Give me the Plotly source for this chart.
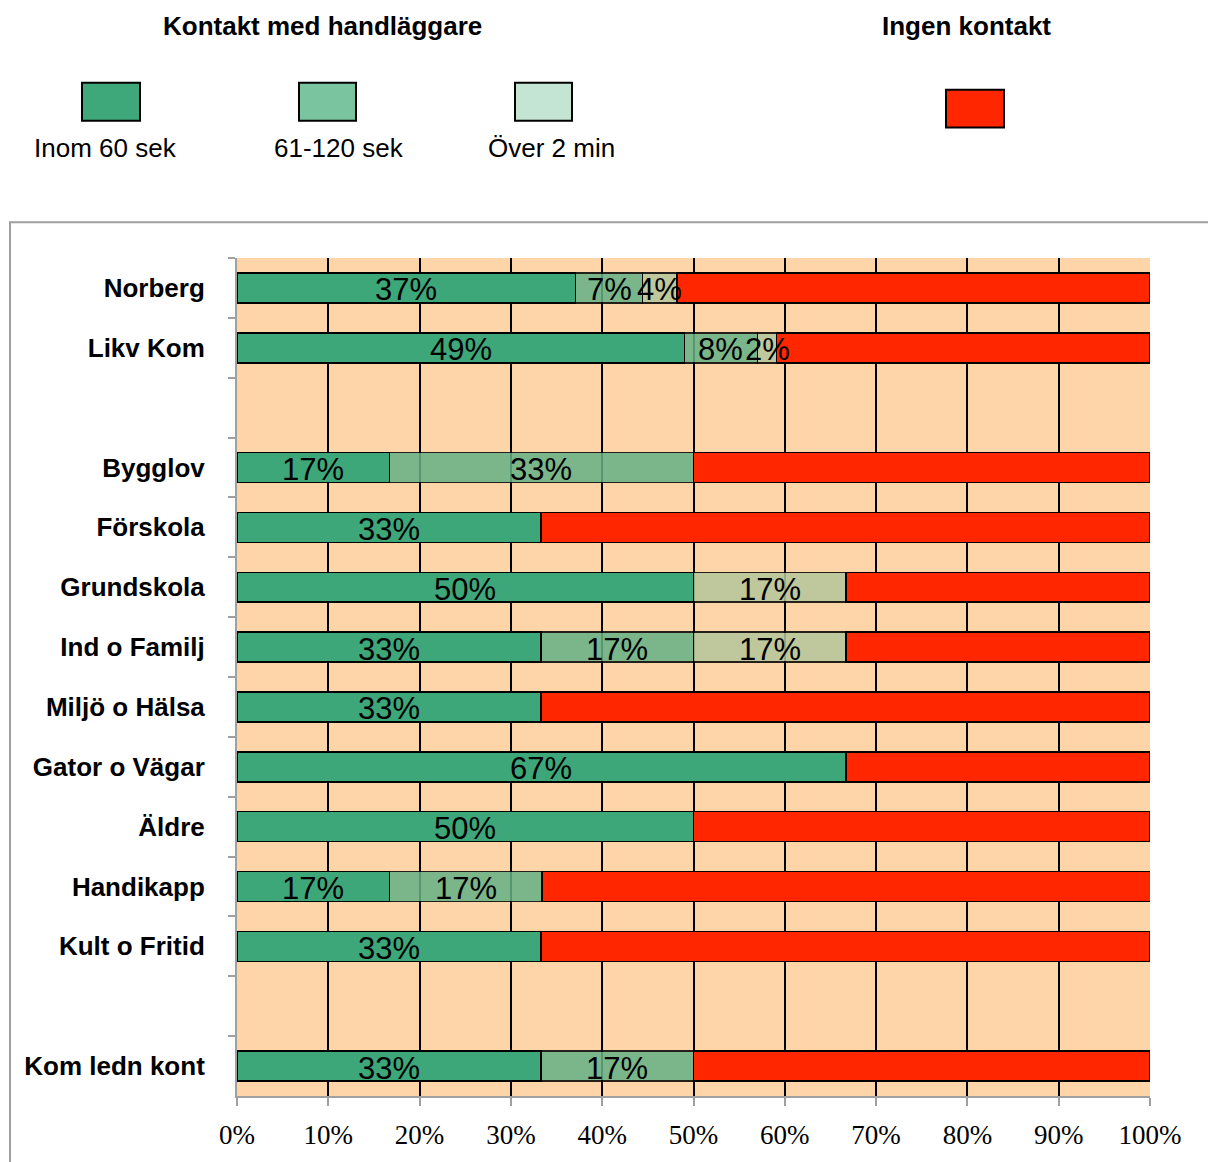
import plotly.graph_objects as go

# ---------------- data ----------------
categories = ["Norberg", "Likv Kom", " ", "Bygglov", "Förskola", "Grundskola",
              "Ind o Familj", "Miljö o Hälsa", "Gator o Vägar", "Äldre",
              "Handikapp", "Kult o Fritid", "  ", "Kom ledn kont"]
inom_60_sek = [37.1, 49.0, None, 16.7, 33.3, 50.0, 33.3, 33.3, 66.7, 50.0, 16.7, 33.3, None, 33.3]
sek_61_120 = [7.3, 8.0, None, 33.3, None, None, 16.7, None, None, None, 16.7, None, None, 16.7]
over_2_min = [3.8, 2.1, None, None, None, 16.7, 16.7, None, None, None, None, None, None, None]
ingen_kontakt = [51.8, 40.9, None, 50.0, 66.7, 33.3, 33.3, 66.7, 33.3, 50.0, 66.7, 66.7, None, 50.0]
x_tick_values = [0, 10, 20, 30, 40, 50, 60, 70, 80, 90, 100]
x_tick_labels = ["0%", "10%", "20%", "30%", "40%", "50%", "60%", "70%", "80%", "90%", "100%"]
series_names = ["Inom 60 sek", "61-120 sek", "Över 2 min", "Ingen kontakt"]

# ---------------- styles ----------------
W, H = 1208, 1162
ML, MR, MT, MB = 237, 58, 258, 62
PW, PH = W - ML - MR, H - MT - MB

bar_colors = ["#3EA77A", "#65B185", "#B5C69C", "#FF2600"]
bar_opac = [1.0, 0.85, 0.85, 1.0]
legend_colors = ["#3FA87B", "#7AC4A0", "#C4E4D4", "#FF2600"]
SANS = "Liberation Sans, Arial, sans-serif"
SERIF = "Liberation Serif, Times New Roman, serif"


def px(x):
    return (x - ML) / PW


def py(y):
    return (H - MB - y) / PH


fig = go.Figure()
all_series = [inom_60_sek, sek_61_120, over_2_min, ingen_kontakt]
for name, vals, col, op in zip(series_names, all_series, bar_colors, bar_opac):
    fig.add_trace(go.Bar(
        name=name, y=categories, x=vals, orientation="h", width=0.5,
        marker=dict(color=col, opacity=op, line=dict(color="black", width=1.5)),
        hoverinfo="x+y+name",
    ))

fig.update_layout(
    width=W, height=H,
    margin=dict(l=ML, r=MR, t=MT, b=MB),
    paper_bgcolor="white", plot_bgcolor="#FDD5A9",
    barmode="stack", showlegend=False,
    xaxis=dict(
        range=[0, 100], tickvals=x_tick_values, ticktext=x_tick_labels,
        showgrid=True, gridcolor="black", gridwidth=1.5, zeroline=False,
        showline=True, linecolor="#A0A0A0", linewidth=2,
        ticks="outside", ticklen=8, tickwidth=2, tickcolor="#A0A0A0",
        tickfont=dict(family=SERIF, size=27, color="black"),
        ticklabelstandoff=6,
    ),
    yaxis=dict(
        type="category", categoryorder="array", categoryarray=categories,
        range=[len(categories) - 0.5, -0.5],
        showgrid=False, zeroline=False,
        showline=True, linecolor="#A0A0A0", linewidth=2,
        ticks="outside", ticklen=7, tickwidth=2, tickcolor="#A0A0A0",
        tickson="boundaries",
        tickfont=dict(family=SANS, size=26, color="black", weight="bold"),
        ticklabelstandoff=25,
    ),
)

shapes = []
# outer chart frame
shapes.append(dict(type="rect", xref="paper", yref="paper",
                   x0=px(10), x1=px(1230), y0=py(1190), y1=py(222),
                   line=dict(color="#A0A0A0", width=2), fillcolor="rgba(0,0,0,0)",
                   layer="below"))
# custom legend
legend_boxes = [(82, 140, 82, 120), (299, 356, 82, 120), (515, 572, 82, 120), (946, 1004, 89, 127)]
for (x0, x1, y0, y1), col in zip(legend_boxes, legend_colors):
    shapes.append(dict(type="rect", xref="paper", yref="paper",
                       x0=px(x0), x1=px(x1), y0=py(y1), y1=py(y0),
                       line=dict(color="black", width=2), fillcolor=col))
fig.update_layout(shapes=shapes)

annotations = [
    dict(text="<b>Kontakt med handläggare</b>", x=px(322), y=py(25)),
    dict(text="<b>Ingen kontakt</b>", x=px(966), y=py(25)),
    dict(text=series_names[0], x=px(105), y=py(147)),
    dict(text=series_names[1], x=px(339), y=py(147)),
    dict(text=series_names[2], x=px(551), y=py(147)),
]
for a in annotations:
    a.update(xref="paper", yref="paper", xanchor="center", yanchor="middle",
             showarrow=False, font=dict(family=SANS, size=26, color="black"))

# data labels (drawn on top of all bars, as in the original), centred in each segment
for i, cat in enumerate(categories):
    base = 0.0
    for vals in all_series[:3]:
        v = vals[i]
        if v is not None:
            annotations.append(dict(
                x=base + v / 2, y=cat, xref="x", yref="y", text=f"{round(v)}%",
                showarrow=False, xanchor="center", yanchor="middle", yshift=-2,
                font=dict(family=SANS, size=31, color="black"),
            ))
            base += v

fig.update_layout(annotations=annotations)

fig.write_html("out.html")
